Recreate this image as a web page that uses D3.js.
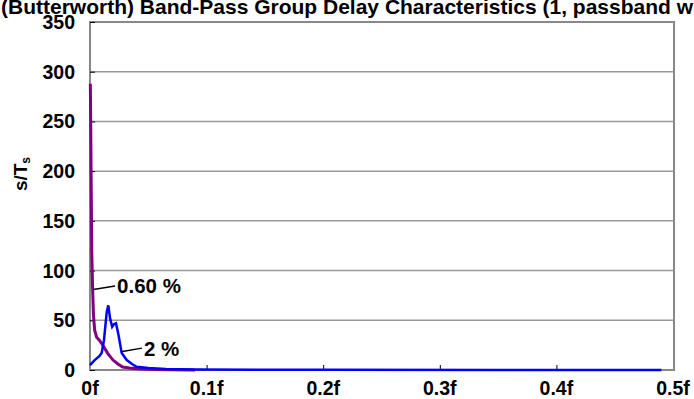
<!DOCTYPE html>
<html><head><meta charset="utf-8">
<script src="https://cdn.jsdelivr.net/npm/d3@7"></script>
<style>body{margin:0;background:#fff;} svg{display:block;font-family:"Liberation Sans",Arial,sans-serif;font-weight:bold;}</style>
</head><body>
<svg id="c" width="694" height="399"></svg>
<script>
const titleText = "(Butterworth) Band-Pass Group Delay Characteristics (1, passband width)";
const yTicks = [0,50,100,150,200,250,300,350];
const xTicks = [0,0.1,0.2,0.3,0.4,0.5];
const xTickLabels = ["0f","0.1f","0.2f","0.3f","0.4f","0.5f"];
// series: 0.60 % (purple)
const purpleF = [0.0003,0.0006,0.0009,0.0015,0.0022,0.003,0.004,0.0057,0.008,0.011,0.015,0.0197,0.024,0.028,0.034,0.043,0.055,0.07,0.09];
const purpleV = [288,250,204,120,83,55,40,33,30,25,17,10,6,3,2,1,0.5,0.2,0.1];
// series: 2 % (blue)
const blueF = [0,0.004,0.008,0.010,0.012,0.0143,0.0157,0.0172,0.019,0.0205,0.0223,0.0245,0.0272,0.0315,0.036,0.040,0.05,0.065,0.09,0.2,0.35,0.49];
const blueV = [5,10,14,17,30,58,65,52,43.5,46,47,35,17,10,6,3.3,2,1,0.5,0.2,0.1,0.05];
const ann = [{text:"0.60 %", f:0.0028, v:81, tf:0.0232, tv:84.5},{text:"2 %", f:0.0266, v:18.4, tf:0.0463, tv:22}];

const svg = d3.select("#c");
const L=90,R=674,T=22,B=370;
const x = d3.scaleLinear().domain([0,0.5]).range([L,R-1]);
const y = d3.scaleLinear().domain([0,350]).range([B,T]);

svg.append("text").attr("x",1).attr("y",14).attr("font-size",21).attr("fill","#000").text(titleText);

// gridlines
svg.append("g").selectAll("line").data(yTicks.slice(1,-1)).join("line")
  .attr("x1",L).attr("x2",R).attr("y1",d=>y(d)).attr("y2",d=>y(d))
  .attr("stroke","#999").attr("stroke-width",1.5);
// frame
svg.append("rect").attr("x",L).attr("y",T).attr("width",R-L).attr("height",B-T)
  .attr("fill","none").attr("stroke","#888").attr("stroke-width",2);

// y axis ticks and labels
const yAxis = d3.axisRight(y).tickValues(yTicks).tickSize(5).tickFormat("");
const gy = svg.append("g").attr("transform",`translate(${L},0)`).call(yAxis);
gy.select(".domain").remove();
gy.selectAll("line").attr("stroke","#000");
svg.append("g").selectAll("text").data(yTicks).join("text")
  .attr("x",75).attr("y",d=>y(d)).attr("dy","0.36em").attr("text-anchor","end")
  .attr("font-size",19.5).text(d=>d);

// x axis ticks and labels
const xAxis = d3.axisTop(x).tickValues(xTicks.slice(1,-1)).tickSize(5).tickFormat("");
const gx = svg.append("g").attr("transform",`translate(0,${B})`).call(xAxis);
gx.select(".domain").remove();
gx.selectAll("line").attr("stroke","#000");
svg.append("g").selectAll("text").data(xTicks).join("text")
  .attr("x",d=>x(d)).attr("y",395).attr("text-anchor","middle")
  .attr("font-size",19.5).text((d,i)=>xTickLabels[i]);

// y label
svg.append("text").attr("transform","translate(27,174) rotate(-90)").attr("text-anchor","middle")
  .attr("font-size",19).html('s/T<tspan font-size="12" dy="3">s</tspan>');

const line = d3.line().x(d=>x(d[0])).y(d=>y(d[1]));
svg.append("path").datum(purpleF.map((f,i)=>[f,purpleV[i]])).attr("d",line)
  .attr("fill","none").attr("stroke","#800080").attr("stroke-width",3);
svg.append("path").datum(blueF.map((f,i)=>[f,blueV[i]])).attr("d",line)
  .attr("fill","none").attr("stroke","#0000ff").attr("stroke-width",2.5);

// annotations
ann.forEach(a=>{
  svg.append("line").attr("x1",x(a.f)).attr("y1",y(a.v)).attr("x2",x(a.tf)-2).attr("y2",y(a.tv))
    .attr("stroke","#000").attr("stroke-width",1.5);
  svg.append("text").attr("x",x(a.tf)).attr("y",y(a.tv)).attr("dy","0.36em").attr("font-size",20.5).text(a.text);
});
</script>
</body></html>
